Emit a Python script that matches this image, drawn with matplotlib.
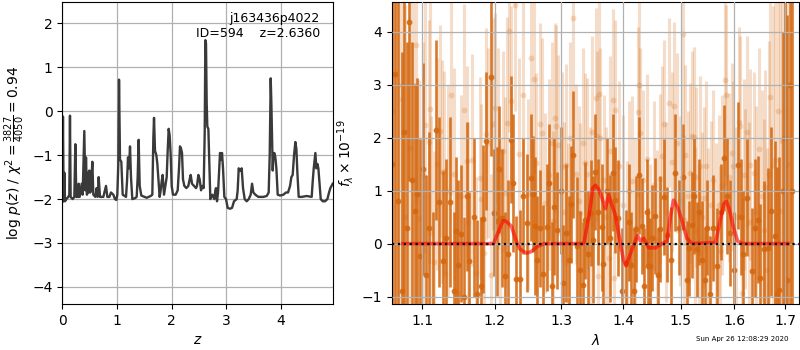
import numpy as np
import matplotlib
matplotlib.use("Agg")
import matplotlib.pyplot as plt
from matplotlib.ticker import FixedLocator, FixedFormatter, NullLocator, NullFormatter

# ---------------- p(z) panel ----------------
z_grid = [
    0.000, 0.012, 0.024, 0.037, 0.049, 0.073, 0.110, 0.128, 0.140, 0.152,
    0.189, 0.220, 0.238, 0.256, 0.287, 0.299, 0.317, 0.354, 0.372, 0.402,
    0.421, 0.433, 0.451, 0.463, 0.482, 0.494, 0.512, 0.530, 0.549, 0.567,
    0.604, 0.628, 0.646, 0.665, 0.689, 0.750, 0.799, 0.823, 0.860, 0.890,
    0.933, 0.963, 0.988, 1.006, 1.024, 1.037, 1.055, 1.079, 1.104, 1.165,
    1.183, 1.201, 1.220, 1.238, 1.256, 1.280, 1.329, 1.360, 1.378, 1.396,
    1.415, 1.445, 1.543, 1.616, 1.646, 1.665, 1.677, 1.695, 1.720, 1.738,
    1.762, 1.780, 1.799, 1.817, 1.835, 1.860, 1.884, 1.909, 1.927, 1.945,
    1.963, 1.982, 2.000, 2.024, 2.073, 2.110, 2.134, 2.152, 2.171, 2.189,
    2.207, 2.232, 2.268, 2.305, 2.329, 2.348, 2.372, 2.409, 2.445, 2.463,
    2.488, 2.512, 2.537, 2.561, 2.585, 2.604, 2.616, 2.628, 2.640, 2.652,
    2.671, 2.689, 2.707, 2.744, 2.780, 2.799, 2.811, 2.829, 2.848, 2.866,
    2.884, 2.902, 2.921, 2.939, 2.963, 2.994, 3.024, 3.067, 3.104, 3.140,
    3.189, 3.207, 3.226, 3.244, 3.262, 3.280, 3.305, 3.335, 3.372, 3.409,
    3.445, 3.470, 3.494, 3.530, 3.585, 3.677, 3.738, 3.774, 3.793, 3.811,
    3.823, 3.835, 3.848, 3.860, 3.878, 3.896, 3.915, 3.939, 3.982, 4.043,
    4.091, 4.128, 4.165, 4.189, 4.213, 4.238, 4.262, 4.280, 4.299, 4.323,
    4.378, 4.470, 4.561, 4.579, 4.598, 4.616, 4.628, 4.646, 4.665, 4.683,
    4.701, 4.726, 4.762, 4.805, 4.848, 4.878, 4.902, 4.945,
]
log_pz = [
    -2.05, -0.12, -2.05, -1.40, -2.05, -2.00, -1.95, -1.90, -0.10, -1.95,
    -2.00, -1.95, -0.75, -1.95, -1.95, -1.65, -1.95, -1.65, -1.90, -0.45,
    -1.80, -1.05, -1.90, -1.40, -1.85, -1.35, -1.85, -1.60, -1.15, -1.90,
    -1.95, -1.75, -1.95, -1.50, -1.95, -1.95, -1.70, -1.95, -1.95, -1.85,
    -1.90, -2.00, -2.02, -1.90, -1.20, 0.72, -1.10, -1.15, -1.90, -1.95,
    -1.60, -1.05, -1.30, -0.80, -1.50, -2.00, -1.98, -1.95, -1.50, -0.65,
    -1.70, -1.92, -1.97, -1.93, -1.90, -0.60, -0.15, -0.90, -1.00, -1.20,
    -1.65, -1.95, -1.80, -1.60, -1.45, -1.90, -1.70, -1.50, -0.90, -0.40,
    -0.55, -1.00, -1.70, -1.90, -1.90, -1.80, -1.30, -0.80, -0.85, -0.95,
    -1.55, -1.70, -1.75, -1.70, -1.55, -1.45, -1.65, -1.70, -1.75, -1.70,
    -1.45, -1.55, -1.80, -1.70, -1.75, -0.50, 1.62, 1.55, 0.20, -0.35,
    -0.40, -1.20, -2.00, -1.90, -2.00, -1.80, -1.75, -2.05, -1.85, -1.40,
    -0.95, -1.10, -0.95, -1.30, -1.95, -2.00, -2.20, -2.22, -2.20, -2.05,
    -2.00, -1.80, -1.30, -1.35, -1.35, -1.30, -1.75, -2.00, -2.05, -2.00,
    -1.90, -1.65, -1.85, -1.90, -1.95, -1.95, -1.93, -1.85, -1.00, 0.75,
    0.20, -0.60, -1.35, -1.00, -0.95, -1.05, -1.30, -1.90, -1.92, -1.90,
    -1.85, -1.85, -1.70, -1.50, -1.45, -1.00, -0.70, -0.85, -1.40, -1.95,
    -1.95, -1.93, -1.95, -1.60, -1.30, -1.10, -0.95, -1.30, -1.20, -1.30,
    -1.60, -2.00, -2.05, -2.05, -2.00, -1.85, -1.75, -1.65,
]

# ---------------- spectrum panel: beam A (dark) ----------------
wave_a = [
    1.0612, 1.0645, 1.0680, 1.0731, 1.0761, 1.0795, 1.0830, 1.0868, 1.0904, 1.0934,
    1.0970, 1.1010, 1.1050, 1.1095, 1.1140, 1.1186, 1.1227, 1.1273, 1.1320, 1.1376,
    1.1420, 1.1458, 1.1486, 1.1523, 1.1569, 1.1610, 1.1638, 1.1700, 1.1751, 1.1799,
    1.1835, 1.1878, 1.1945, 1.1989, 1.2036, 1.2065, 1.2100, 1.2148, 1.2196, 1.2231,
    1.2261, 1.2309, 1.2369, 1.2420, 1.2468, 1.2528, 1.2558, 1.2593, 1.2630, 1.2669,
    1.2719, 1.2771, 1.2811, 1.2848, 1.2890, 1.2935, 1.2985, 1.3028, 1.3075, 1.3110,
    1.3149, 1.3186, 1.3249, 1.3292, 1.3335, 1.3372, 1.3420, 1.3464, 1.3506, 1.3534,
    1.3590, 1.3643, 1.3669, 1.3735, 1.3780, 1.3824, 1.3862, 1.3917, 1.3980, 1.4042,
    1.4090, 1.4131, 1.4180, 1.4216, 1.4273, 1.4314, 1.4353, 1.4400, 1.4428, 1.4457,
    1.4500, 1.4544, 1.4590, 1.4632, 1.4702, 1.4760, 1.4830, 1.4898, 1.4970, 1.5047,
    1.5108, 1.5155, 1.5199, 1.5245, 1.5291, 1.5340, 1.5390, 1.5444, 1.5490, 1.5537,
    1.5598, 1.5662, 1.5740, 1.5805, 1.5851, 1.5914, 1.5990, 1.6073, 1.6120, 1.6170,
    1.6236, 1.6334, 1.6400, 1.6452, 1.6497, 1.6577, 1.6662, 1.6717, 1.6797, 1.6843,
    1.6884, 1.6960, 1.7000, 1.7047, 1.7102, 1.7140,
]
flux_a = [
    1.50, 3.21, 0.80, -0.89, 2.11, 0.30, 4.19, 1.20, 0.62, 0.93,
    -0.23, 1.40, -0.60, 0.30, -1.30, 2.15, 0.79, -0.33, 0.10, 0.79,
    -0.90, 0.24, -0.40, 0.19, -1.00, 0.89, -0.33, 0.50, -0.95, -0.80,
    0.47, 1.93, 3.15, 0.58, 0.42, 1.40, 0.48, -0.61, -0.20, 1.96,
    1.15, -0.67, -0.67, 0.90, 0.39, 1.24, 0.94, 0.33, -0.30, 0.29,
    -0.57, 0.31, 1.15, -0.80, 0.70, 0.25, 1.00, -0.74, 0.20, -0.30,
    0.74, 1.68, -0.05, -0.49, -0.79, 0.44, -0.20, 0.58, 0.07, 1.35,
    0.60, 0.31, -0.38, 0.99, 0.10, 1.34, 0.83, 0.48, -0.90, -0.36,
    0.40, -0.40, -0.90, 0.27, 1.29, 0.33, -0.80, 0.60, -0.42, -0.42,
    0.10, 0.52, -0.60, 0.27, 0.88, 0.17, -0.30, 1.34, 0.30, 1.26,
    -0.68, -0.09, 0.36, 0.90, -0.11, 0.60, -0.30, -0.68, 0.30, -0.96,
    0.29, -0.42, 0.60, 1.62, 0.90, 0.20, -0.50, 1.48, 0.50, -0.20,
    0.87, -0.52, 0.30, 0.45, -0.65, -0.11, -0.08, 0.61, 0.14, -0.95,
    -0.87, 1.00, 2.00, -0.68, 3.00, 1.00,
]
err_a = [
    6.0, 5.0, 5.0, 4.5, 3.5, 3.5, 3.0, 2.6, 2.4, 2.2,
    2.2, 2.0, 1.9, 1.8, 1.9, 1.7, 1.6, 1.7, 1.5, 1.6,
    1.5, 1.4, 1.6, 1.3, 1.5, 1.4, 1.3, 1.5, 1.4, 1.3,
    1.4, 1.3, 1.5, 1.2, 1.4, 1.2, 1.3, 1.2, 1.4, 1.2,
    1.3, 1.2, 1.3, 1.1, 1.3, 1.2, 1.1, 1.3, 1.2, 1.1,
    1.3, 1.2, 1.1, 1.2, 1.3, 1.1, 1.2, 1.1, 1.3, 1.2,
    1.1, 1.2, 1.3, 1.1, 1.2, 1.1, 1.2, 1.0, 1.2, 1.1,
    1.0, 1.2, 1.1, 1.0, 1.2, 1.1, 1.0, 1.1, 1.2, 1.0,
    1.1, 1.0, 1.2, 1.0, 1.1, 0.9, 1.1, 1.0, 1.1, 0.9,
    1.0, 1.1, 0.9, 1.0, 1.1, 0.9, 1.0, 1.1, 0.9, 1.0,
    1.1, 0.9, 1.0, 1.1, 0.9, 1.0, 1.1, 1.0, 0.9, 1.1,
    1.0, 1.1, 0.9, 1.0, 1.1, 1.0, 1.1, 1.2, 1.1, 1.2,
    1.1, 1.2, 1.3, 1.2, 1.4, 1.3, 1.5, 1.6, 1.8, 2.4,
    2.5, 3.0, 4.0, 5.0, 5.0, 6.0,
]

# ---------------- spectrum panel: beam B (light) ----------------
wave_b = [
    1.0620, 1.0660, 1.0700, 1.0732, 1.0780, 1.0840, 1.0880, 1.0918, 1.0955, 1.1014,
    1.1038, 1.1084, 1.1108, 1.1122, 1.1154, 1.1200, 1.1238, 1.1262, 1.1294, 1.1308,
    1.1350, 1.1388, 1.1426, 1.1482, 1.1520, 1.1560, 1.1612, 1.1622, 1.1678, 1.1738,
    1.1784, 1.1808, 1.1850, 1.1878, 1.1902, 1.1940, 1.1972, 1.2004, 1.2044, 1.2080,
    1.2118, 1.2141, 1.2181, 1.2200, 1.2240, 1.2288, 1.2350, 1.2420, 1.2486, 1.2534,
    1.2574, 1.2601, 1.2675, 1.2700, 1.2749, 1.2800, 1.2848, 1.2873, 1.2897, 1.2922,
    1.2947, 1.3003, 1.3040, 1.3073, 1.3097, 1.3126, 1.3181, 1.3234, 1.3272, 1.3299,
    1.3340, 1.3380, 1.3408, 1.3450, 1.3489, 1.3542, 1.3558, 1.3580, 1.3596, 1.3623,
    1.3680, 1.3720, 1.3761, 1.3786, 1.3830, 1.3840, 1.3867, 1.3937, 1.4002, 1.4059,
    1.4100, 1.4146, 1.4200, 1.4251, 1.4261, 1.4291, 1.4340, 1.4400, 1.4460, 1.4520,
    1.4582, 1.4627, 1.4665, 1.4696, 1.4740, 1.4783, 1.4842, 1.4887, 1.4940, 1.4990,
    1.5037, 1.5061, 1.5080, 1.5130, 1.5173, 1.5205, 1.5235, 1.5258, 1.5280, 1.5328,
    1.5347, 1.5390, 1.5421, 1.5453, 1.5500, 1.5546, 1.5600, 1.5650, 1.5701, 1.5733,
    1.5770, 1.5813, 1.5839, 1.5888, 1.5951, 1.5970, 1.6030, 1.6079, 1.6112, 1.6142,
    1.6180, 1.6211, 1.6245, 1.6280, 1.6310, 1.6375, 1.6420, 1.6473, 1.6530, 1.6572,
    1.6606, 1.6639, 1.6671, 1.6690, 1.6757, 1.6803, 1.6860, 1.6901, 1.6935, 1.6990,
    1.7040,
]
flux_b = [
    2.50, 1.00, 3.00, 2.73, 0.50, 1.80, 3.00, 3.74, 0.49, 1.30,
    2.23, 1.92, 2.54, 0.20, -0.35, 1.50, 2.13, 1.36, 1.35, -0.57,
    1.00, 2.81, 1.32, -0.93, 0.90, 2.53, 1.55, 0.40, 1.57, -0.55,
    1.24, 0.84, -0.18, 2.07, 1.90, -0.59, 2.25, 2.56, 1.79, 0.20,
    1.74, 0.96, 2.28, 4.01, 2.69, 4.50, 1.70, 2.80, 0.93, 3.51,
    3.11, 1.52, 2.26, 2.09, 0.77, 1.30, 1.90, 0.42, 2.37, 2.22,
    1.86, 1.44, 0.60, 1.49, 0.20, 2.00, 4.26, 1.32, 0.80, 0.58,
    1.90, 1.52, 1.32, 0.50, 2.11, 2.75, 2.03, -0.62, 2.82, 2.00,
    1.20, 0.50, -0.27, 1.74, 2.72, -0.65, 2.53, 1.47, 0.72, -0.05,
    1.00, 1.19, 0.30, 2.48, 3.00, 2.09, 1.20, 1.60, -0.20, 1.10,
    0.07, 1.22, 1.65, 2.25, 0.60, 2.66, 1.54, 2.59, 1.90, 0.80,
    3.95, 0.45, 1.67, 0.90, 1.34, 2.03, 2.01, 0.23, 1.25, -0.18,
    1.47, 0.50, 0.87, 1.47, 0.10, 0.72, 1.20, 0.30, 0.72, -0.14,
    1.10, 3.08, 2.81, 1.25, 1.71, 1.47, 0.50, 2.29, 2.22, -0.93,
    1.30, 0.85, 2.11, 0.40, 1.49, 1.33, 0.60, 1.79, 0.90, 0.26,
    1.07, -0.49, 1.32, 2.77, 1.49, 1.58, 2.50, 0.61, 1.94, 2.50,
    1.50,
]
err_b = [
    6.0, 6.0, 5.0, 4.5, 4.0, 3.5, 3.0, 3.0, 2.6, 2.5,
    2.4, 2.3, 2.2, 2.2, 2.1, 2.0, 2.0, 2.1, 1.9, 2.0,
    2.0, 1.9, 2.0, 1.9, 1.9, 2.0, 1.8, 1.9, 2.0, 1.8,
    1.9, 1.8, 1.9, 2.0, 1.8, 1.9, 2.0, 1.8, 1.9, 1.8,
    1.9, 1.8, 2.0, 1.9, 1.8, 2.0, 1.8, 1.9, 1.8, 1.9,
    1.8, 1.7, 1.9, 1.8, 1.7, 1.8, 1.9, 1.7, 1.8, 1.9,
    1.7, 1.8, 1.7, 1.9, 1.7, 1.8, 1.9, 1.7, 1.8, 1.7,
    1.8, 1.7, 1.8, 1.7, 1.8, 1.7, 1.6, 1.7, 1.8, 1.7,
    1.6, 1.7, 1.6, 1.8, 1.7, 1.6, 1.7, 1.6, 1.7, 1.6,
    1.7, 1.6, 1.7, 1.6, 1.7, 1.6, 1.7, 1.6, 1.7, 1.6,
    1.7, 1.6, 1.7, 1.6, 1.7, 1.6, 1.7, 1.6, 1.7, 1.6,
    1.7, 1.6, 1.7, 1.6, 1.7, 1.6, 1.7, 1.6, 1.7, 1.6,
    1.7, 1.6, 1.7, 1.6, 1.7, 1.6, 1.7, 1.6, 1.7, 1.6,
    1.7, 1.8, 1.7, 1.6, 1.7, 1.6, 1.7, 1.8, 1.7, 1.8,
    1.8, 1.7, 1.8, 1.9, 1.8, 1.9, 2.0, 1.9, 2.0, 2.1,
    2.2, 2.3, 2.5, 2.8, 3.0, 3.5, 4.0, 4.5, 5.0, 5.5,
    6.0,
]

# ---------------- best-fit model ----------------
wave_model = [
    1.0745, 1.1981, 1.2044, 1.2118, 1.2167, 1.2240, 1.2314, 1.2364, 1.2462, 1.2537,
    1.2635, 1.2734, 1.3352, 1.3433, 1.3498, 1.3542, 1.3596, 1.3651, 1.3704, 1.3758,
    1.3813, 1.3866, 1.3937, 1.4002, 1.4047, 1.4117, 1.4204, 1.4244, 1.4291, 1.4349,
    1.4436, 1.4552, 1.4669, 1.4756, 1.4814, 1.4871, 1.4948, 1.5018, 1.5111, 1.5205,
    1.5640, 1.5720, 1.5795, 1.5845, 1.5901, 1.5981, 1.6060, 1.6147, 1.7065,
]
flux_model = [
    0.00, 0.00, 0.20, 0.43, 0.42, 0.33, 0.05, -0.10, -0.18, -0.15,
    -0.05, 0.00, 0.00, 0.50, 1.05, 1.10, 1.02, 0.85, 0.66, 0.92,
    0.72, 0.55, 0.10, -0.30, -0.42, -0.20, 0.05, 0.15, 0.05, 0.10,
    -0.08, -0.08, 0.00, 0.05, 0.50, 0.82, 0.68, 0.45, 0.10, 0.00,
    0.02, 0.40, 0.75, 0.80, 0.65, 0.30, 0.05, 0.00, 0.00,
]

wave_ticks = [1.1, 1.2, 1.3, 1.4, 1.5, 1.6, 1.7]
wave_tick_labels = ["1.1", "1.2", "1.3", "1.4", "1.5", "1.6", "1.7"]

FS = 9
plt.rcParams['font.family'] = ['DejaVu Sans']
plt.rcParams['font.size'] = FS
plt.rcParams['mathtext.fontset'] = 'dejavusans'

fig = plt.figure(figsize=(8, 3.5), dpi=100)

# Left panel: p(z)
ax1 = fig.add_axes([0.0779, 0.1314, 0.3388, 0.8643])
ax1.plot(z_grid, log_pz, color='#3a3a3a', lw=1.7)
ax1.set_xlim(0, 4.957)
ax1.set_ylim(-4.39, 2.5)
ax1.set_yticks([-4, -3, -2, -1, 0, 1, 2])
ax1.set_xticks([0, 1, 2, 3, 4])
ax1.grid(True, color='#b0b0b0', lw=0.9)
ax1.set_xlabel(r'$z$', fontsize=FS + 1)
ax1.set_ylabel(r'$\log\,p(z)$ / $\chi^2=\frac{3827}{4050}=0.94$', fontsize=FS + 1)
ax1.text(0.95, 0.965, 'j163436p4022\nID=594    z=2.6360', transform=ax1.transAxes,
         ha='right', va='top', fontsize=FS)
ax1.tick_params(labelsize=FS + 1)

# Right panel: spectrum
C = '#d4670f'
ax2 = fig.add_axes([0.4896, 0.1314, 0.5095, 0.8643])
ax2.set_xscale('log')
ax2.errorbar(wave_b, flux_b, yerr=err_b, fmt='o', color=C, alpha=0.22, ms=4.2,
             mew=0, elinewidth=2.2, capsize=0, zorder=1)
ax2.errorbar(wave_a, flux_a, yerr=err_a, fmt='o', color=C, alpha=0.88, ms=4.2,
             mew=0, elinewidth=1.9, capsize=0, zorder=2)
ax2.plot(wave_model, flux_model, color='r', alpha=0.6, lw=2.6, zorder=3)
ax2.axhline(0, color='k', ls=':', lw=1.6, zorder=4)
ax2.set_xlim(1.0603, 1.7294)
ax2.set_ylim(-1.14, 4.57)
ax2.xaxis.set_major_locator(FixedLocator(wave_ticks))
ax2.xaxis.set_major_formatter(FixedFormatter(wave_tick_labels))
ax2.xaxis.set_minor_locator(NullLocator())
ax2.xaxis.set_minor_formatter(NullFormatter())
ax2.set_yticks([-1, 0, 1, 2, 3, 4])
ax2.grid(True, color='#b0b0b0', lw=0.9)
ax2.set_axisbelow(False)
ax2.set_xlabel(r'$\lambda$', fontsize=FS + 1)
ax2.set_ylabel(r'$f_\lambda\times10^{-19}$', fontsize=FS + 1)
ax2.tick_params(labelsize=FS + 1)

fig.text(0.985, 0.03, 'Sun Apr 26 12:08:29 2020', ha='right', va='center', fontsize=5)

fig.savefig('out.png', dpi=100)
